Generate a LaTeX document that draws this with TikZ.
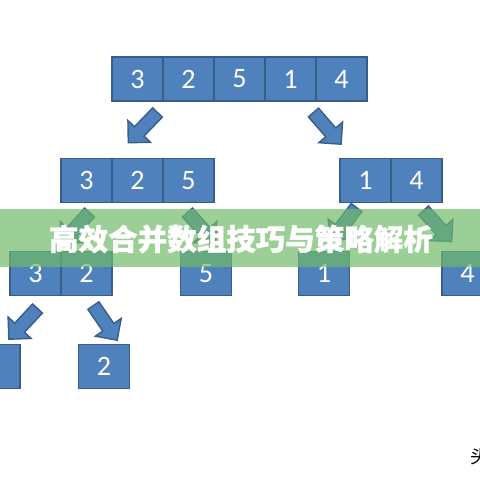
\documentclass[tikz,border=0pt]{standalone}
\usepackage{fontspec}
\setmainfont{Carlito}
\newfontfamily\cjk{Noto Sans CJK SC}
\newfontfamily\cjkheavy{Noto Sans CJK SC}[BoldFeatures={FakeBold=1.2}]
\usetikzlibrary{positioning,shapes.arrows}
\definecolor{cellblue}{RGB}{79,129,189}
\definecolor{celledge}{RGB}{56,93,138}
\definecolor{bandgreen}{RGB}{112,186,104}

\begin{document}
\begin{tikzpicture}[x=0.025cm, y=-0.025cm,
    cell/.style={draw=celledge, fill=cellblue, line width=1.2pt, text=white,
        minimum width=1.275cm, minimum height=1.1cm, inner sep=0pt, outer sep=0pt,
        font=\fontsize{20}{24}\selectfont},
    blockarrow/.style={single arrow, draw=celledge, fill=cellblue, line width=1pt,
        minimum height=1.05cm, inner xsep=0pt, inner ysep=0.15cm,
        single arrow head extend=0.225cm, sloped, allow upside down, pos=0, anchor=tail}]
    \useasboundingbox (0,0) rectangle (480,480);

    % Whole array
    \node[cell] (t1) at (137.5,79) {3};
    \node[cell, right=0pt of t1] (t2) {2};
    \node[cell, right=0pt of t2] (t3) {5};
    \node[cell, right=0pt of t3] (t4) {1};
    \node[cell, right=0pt of t4] (t5) {4};

    % First split
    \node[cell] (l1) at (86.5,180.5) {3};
    \node[cell, right=0pt of l1] (l2) {2};
    \node[cell, right=0pt of l2] (l3) {5};
    \node[cell] (r1) at (365.5,180.5) {1};
    \node[cell, right=0pt of r1] (r2) {4};

    % Second split
    \node[cell] (ll1) at (35.5,273.5) {3};
    \node[cell, right=0pt of ll1] (ll2) {2};
    \node[cell] (lr) at (206,273.5) {5};
    \node[cell] (rl) at (324,273.5) {1};
    \node[cell] (rr) at (467.5,273.5) {4};

    % Single elements
    \node[cell] (lll) at (-5.5,366.5) {};
    \node[cell] (llr) at (104,366.5) {2};

    % Block arrows
    \coordinate (s1) at (158,112);  \coordinate (e1) at (128,143);
    \coordinate (s2) at (313,112);  \coordinate (e2) at (340,143);
    \coordinate (s3) at (90,212);   \coordinate (e3) at (62,243);
    \coordinate (s4) at (187,212);  \coordinate (e4) at (214,242);
    \coordinate (s5) at (357,207);  \coordinate (e5) at (332,240);
    \coordinate (s6) at (423,210);  \coordinate (e6) at (452,242);
    \coordinate (s7) at (38,308);   \coordinate (e7) at (10,338);
    \coordinate (s8) at (93,305);   \coordinate (e8) at (117,340);
    \foreach \i in {1,...,8} {
        \path (s\i) -- (e\i) node[blockarrow] (arr\i) {};
    }

    % Title band
    \fill[bandgreen, opacity=0.7] (0,209) rectangle (480,267);
    \node[text=white, font=\cjkheavy\bfseries\fontsize{21}{24}\selectfont] (title) at (241,239)
        {高效合并数组技巧与策略解析};

    % Corner mark
    \node[anchor=west, inner sep=0pt, font=\cjk\fontsize{13}{13}\selectfont] (mark) at (470,457) {头};
\end{tikzpicture}
\end{document}
